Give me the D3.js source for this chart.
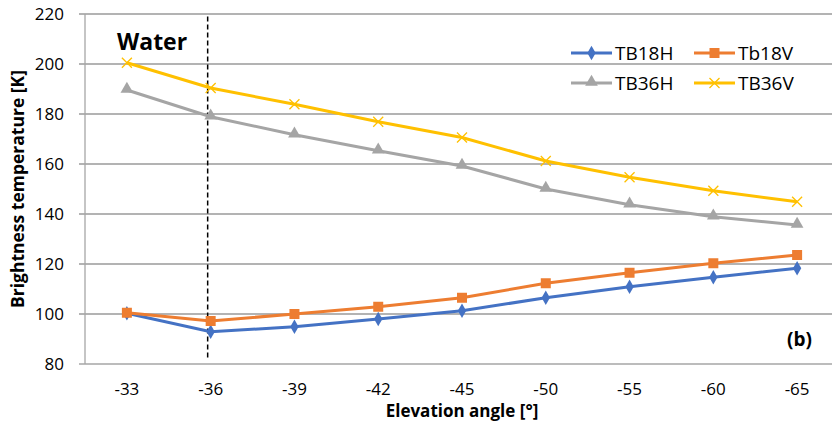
<!DOCTYPE html>
<html>
<head>
<meta charset="utf-8">
<script src="https://cdn.jsdelivr.net/npm/d3@7"></script>
<style>
  body { margin: 0; background: #fff; }
  text { font-family: "Open Sans", sans-serif; fill: #000; }
</style>
</head>
<body>
<svg id="chart" width="832" height="425"></svg>
<script>
// elevation angles (categories)
const angles = ["-33", "-36", "-39", "-42", "-45", "-50", "-55", "-60", "-65"]
const yTicks = [80, 100, 120, 140, 160, 180, 200, 220]

const tb18h = [100.3, 92.9, 94.9, 98.0, 101.3, 106.5, 110.9, 114.7, 118.3]
const tb18v = [100.5, 97.2, 100.0, 102.9, 106.5, 112.3, 116.5, 120.3, 123.6]
const tb36h = [189.6, 178.9, 171.7, 165.3, 159.2, 150.0, 143.7, 138.9, 135.6]
const tb36v = [200.5, 190.4, 183.9, 176.9, 170.6, 161.2, 154.7, 149.3, 144.9]

const series = [
  { name: "TB18H", values: tb18h, color: "#4472C4", symbol: "diamond" },
  { name: "Tb18V", values: tb18v, color: "#ED7D31", symbol: "square" },
  { name: "TB36H", values: tb36h, color: "#A5A5A5", symbol: "triangle" },
  { name: "TB36V", values: tb36v, color: "#FFC000", symbol: "cross" }
]

const svg = d3.select("#chart")
const plotL = 85, plotR = 839, plotT = 14, plotB = 364

const x = d3.scalePoint().domain(angles).range([plotL, plotR]).padding(0.5)
const y = d3.scaleLinear().domain([80, 220]).range([plotB, plotT])

// gridlines
svg.append("g").selectAll("line").data(yTicks).enter().append("line")
  .attr("x1", plotL - 6).attr("x2", plotR)
  .attr("y1", d => y(d)).attr("y2", d => y(d))
  .attr("stroke", d => d === 80 ? "#a6a6a6" : "#9a9a9a")
  .attr("stroke-width", 1.3)

// y axis line
svg.append("line")
  .attr("x1", plotL).attr("x2", plotL).attr("y1", y(220)).attr("y2", y(80))
  .attr("stroke", "#a6a6a6").attr("stroke-width", 1.3)

// y tick labels
svg.append("g").selectAll("text").data(yTicks).enter().append("text")
  .attr("x", plotL - 21).attr("y", d => y(d) + 6)
  .attr("text-anchor", "end")
  .style("font-size", "17px")
  .text(d => d)

// x tick labels
svg.append("g").selectAll("text").data(angles).enter().append("text")
  .attr("x", d => x(d)).attr("y", 395)
  .attr("text-anchor", "middle")
  .style("font-size", "17px")
  .text(d => d)

// axis titles
svg.append("text")
  .attr("x", (plotL + plotR) / 2).attr("y", 417)
  .attr("text-anchor", "middle")
  .style("font-size", "17px").style("font-weight", "bold")
  .text("Elevation angle [°]")

svg.append("text")
  .attr("transform", `translate(24,${(plotT + plotB) / 2}) rotate(-90)`)
  .attr("text-anchor", "middle")
  .style("font-size", "17.5px").style("font-weight", "bold")
  .text("Brightness temperature [K]")

// dashed water marker
svg.append("line")
  .attr("x1", x("-36") - 3).attr("x2", x("-36") - 3)
  .attr("y1", y(219)).attr("y2", y(82.5))
  .attr("stroke", "#000").attr("stroke-width", 1.5)
  .attr("stroke-dasharray", "5,3")

svg.append("text")
  .attr("x", 117).attr("y", 50)
  .style("font-size", "23px").style("font-weight", "bold")
  .text("Water")

svg.append("text")
  .attr("x", 812).attr("y", 346)
  .attr("text-anchor", "end")
  .style("font-size", "19px").style("font-weight", "bold")
  .text("(b)")

// markers
function drawMarker(g, s, cx, cy) {
  if (s.symbol === "diamond") {
    g.append("path").attr("d", d3.symbol(d3.symbolDiamond, 60)())
      .attr("transform", `translate(${cx},${cy})`).attr("fill", s.color)
  } else if (s.symbol === "square") {
    g.append("path").attr("d", d3.symbol(d3.symbolSquare, 100)())
      .attr("transform", `translate(${cx},${cy})`).attr("fill", s.color)
  } else if (s.symbol === "triangle") {
    g.append("path").attr("d", d3.symbol(d3.symbolTriangle, 70)())
      .attr("transform", `translate(${cx},${cy - 1})`).attr("fill", s.color)
  } else {
    g.append("path").attr("d", "M-5,-5L5,5M-5,5L5,-5")
      .attr("transform", `translate(${cx},${cy})`)
      .attr("stroke", s.color).attr("stroke-width", 1.3).attr("fill", "none")
  }
}

const line = d3.line().x((d, i) => x(angles[i])).y(d => y(d))

series.forEach(s => {
  const g = svg.append("g")
  g.append("path").datum(s.values).attr("d", line)
    .attr("fill", "none").attr("stroke", s.color).attr("stroke-width", 3)
  s.values.forEach((v, i) => drawMarker(g, s, x(angles[i]), y(v)))
})

// legend
const legPos = [[571, 53], [694, 53], [571, 83], [694, 83]]
series.forEach((s, i) => {
  const [lx, ly] = legPos[i]
  const g = svg.append("g")
  g.append("line").attr("x1", lx).attr("x2", lx + 41).attr("y1", ly).attr("y2", ly)
    .attr("stroke", s.color).attr("stroke-width", 3)
  drawMarker(g, s, lx + 20.5, ly)
  g.append("text").attr("x", lx + 44).attr("y", ly + 7)
    .style("font-size", "19px").text(s.name)
})
</script>
</body>
</html>
